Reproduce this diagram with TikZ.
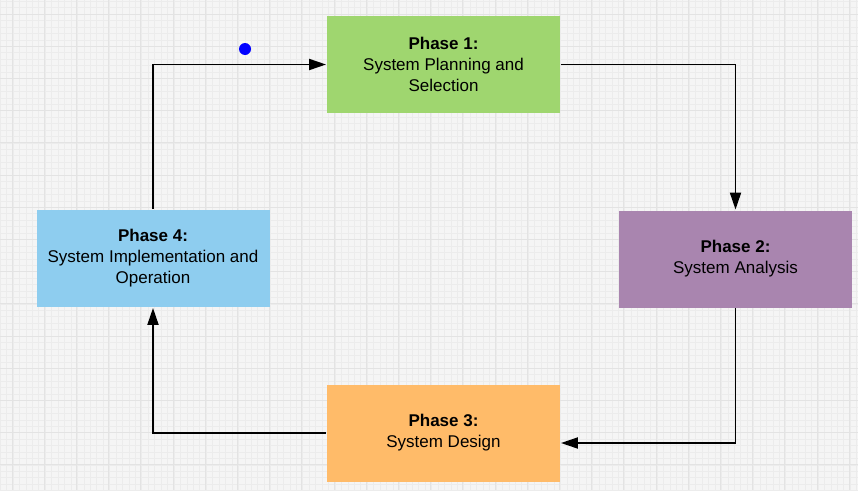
\documentclass[tikz,border=0pt]{standalone}
\usepackage{fontspec}
\setsansfont{Liberation Sans}
\usetikzlibrary{arrows.meta}

\definecolor{gridbg}{HTML}{F5F5F5}
\definecolor{gridmajor}{HTML}{E3E3E3}
\definecolor{gridminor}{HTML}{ECECEC}
\definecolor{phasegreen}{HTML}{9FD66F}
\definecolor{phasepurple}{HTML}{A985AF}
\definecolor{phaseorange}{HTML}{FFBB69}
\definecolor{phaseblue}{HTML}{8ECDEF}

\begin{document}
\begin{tikzpicture}[x=1pt,y=-1pt,>={Triangle[length=17pt,width=11pt]},
                    line width=1.9pt,
                    phase box/.style={rectangle,minimum width=233pt,minimum height=97pt,
                      align=center,inner sep=0pt,
                      font=\sffamily\fontsize{17}{21}\selectfont}]
  \useasboundingbox (0,0) rectangle (858,490);
  % grid paper
  \fill[gridbg] (0,0) rectangle (858,490);
  \foreach \k in {0,...,133}
    \draw[gridminor,line width=0.4pt] ({\k*6.44},0) -- ({\k*6.44},490);
  \foreach \k in {0,...,76}
    \draw[gridminor,line width=0.4pt] (0,{1.12+\k*6.44}) -- (858,{1.12+\k*6.44});
  \foreach \k in {0,...,26}
    \draw[gridmajor,line width=1pt] ({12+\k*32.2},0) -- ({12+\k*32.2},490);
  \foreach \k in {0,...,15}
    \draw[gridmajor,line width=1pt] (0,{14+\k*32.2}) -- (858,{14+\k*32.2});
  % phases
  \node[phase box,fill=phasegreen] (p1) at (443.5,64.5) {\textbf{Phase 1:}\\System Planning and\\Selection};
  \node[phase box,fill=phasepurple] (p2) at (735.5,259) {\textbf{Phase 2:}\\System Analysis};
  \node[phase box,fill=phaseorange] (p3) at (443.5,433) {\textbf{Phase 3:}\\System Design};
  \node[phase box,fill=phaseblue] (p4) at (153,258.5) {\textbf{Phase 4:}\\System Implementation and\\Operation};
  \node[circle,fill=blue,inner sep=0pt,minimum size=12pt] (dot) at (245,49) {};
  % cycle
  \draw[->] (p4.north) |- (p1.west);
  \draw[->] (p1.east) -| (p2.north);
  \draw[->] (p2.south) |- ([yshift=-10pt]p3.east);
  \draw[->] (p3.west) -| (p4.south);
\end{tikzpicture}
\end{document}
